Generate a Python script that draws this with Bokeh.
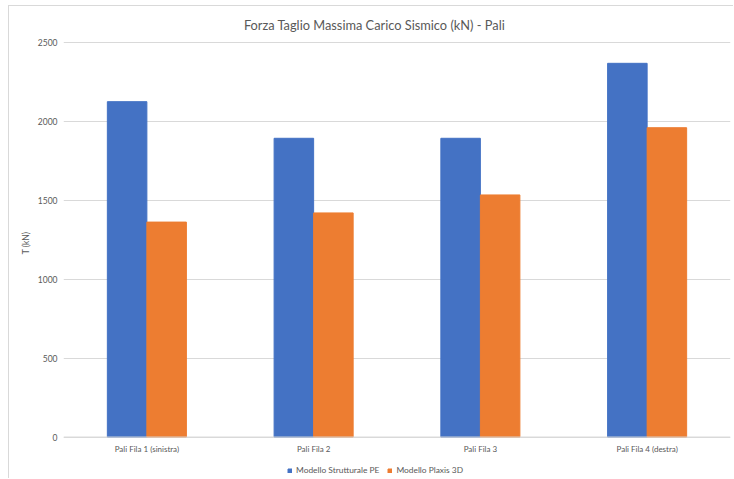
from bokeh.plotting import figure
from bokeh.models import (FactorRange, Range1d, ColumnDataSource, Legend, LegendItem,
                          FixedTicker, Span, Label)
from bokeh.core.properties import value
from bokeh.transform import dodge
from bokeh.embed import file_html
from bokeh.resources import INLINE

# Data
categories = ["Pali Fila 1 (sinistra)", "Pali Fila 2", "Pali Fila 3", "Pali Fila 4 (destra)"]
modello_pe = [2125, 1893, 1893, 2368]
modello_plaxis = [1362, 1420, 1534, 1960]
series_names = ["Modello Strutturale PE", "Modello Plaxis 3D"]
y_ticks = [0, 500, 1000, 1500, 2000, 2500]
chart_title = "Forza Taglio Massima Carico Sismico (kN) - Pali"

TEXT = "#595959"
GRID = "#d9d9d9"
BLUE = "#4472C4"
ORANGE = "#ED7D31"
FONT = "Lato"

source = ColumnDataSource(dict(cat=categories, pe=modello_pe, plaxis=modello_plaxis))

# The frame covers the whole chart height, so the title, the category labels
# and the legend are all drawn inside it, above and below the value scale.
p = figure(width=725, height=473, x_range=FactorRange(*categories, range_padding=0),
           y_range=Range1d(-269, 2728), output_backend="svg", toolbar_location=None,
           x_axis_location=None,
           min_border_left=54, min_border_right=4, min_border_top=0, min_border_bottom=0,
           margin=(5, 0, 0, 8),
           styles={"border-left": f"1px solid {GRID}", "border-top": f"1px solid {GRID}"})
p.outline_line_color = None
p.background_fill_color = "white"
p.border_fill_color = "white"

bw = 0.237
r1 = p.vbar(x=dodge("cat", -bw / 2, range=p.x_range), top="pe", width=bw, source=source,
            fill_color=BLUE, line_color=BLUE)
r2 = p.vbar(x=dodge("cat", bw / 2, range=p.x_range), top="plaxis", width=bw, source=source,
            fill_color=ORANGE, line_color=ORANGE)

# Category axis: base line and labels under it
p.add_layout(Span(location=0, dimension="width", line_color=GRID, line_width=1))
p.text(x="cat", y=0, text="cat", source=source, y_offset=12,
       text_align="center", text_baseline="middle", text_font=value(FONT),
       text_font_size="8px", text_color=TEXT)

# Title
p.add_layout(Label(x=311, y=455, x_units="screen", y_units="screen", text=chart_title,
                   text_align="center", text_baseline="middle", text_font=FONT,
                   text_font_size="12.8px", text_color=TEXT))

# Value axis
p.xgrid.grid_line_color = None
p.ygrid.grid_line_color = GRID
p.ygrid.grid_line_width = 1
p.yaxis.ticker = FixedTicker(ticks=y_ticks)
p.yaxis.axis_line_color = None
p.yaxis.major_tick_line_color = None
p.yaxis.minor_tick_line_color = None
p.yaxis.major_tick_out = 0
p.yaxis.major_tick_in = 0
p.yaxis.minor_tick_out = 0
p.yaxis.major_label_standoff = 6
p.yaxis.major_label_text_font = FONT
p.yaxis.major_label_text_font_size = "8.5px"
p.yaxis.major_label_text_color = TEXT
p.yaxis.axis_label = "T (kN)"
p.yaxis.axis_label_text_font = FONT
p.yaxis.axis_label_text_font_size = "8.5px"
p.yaxis.axis_label_text_font_style = "normal"
p.yaxis.axis_label_text_color = TEXT
p.yaxis.axis_label_standoff = 4

# Legend at the bottom
legend = Legend(items=[LegendItem(label=series_names[0], renderers=[r1]),
                       LegendItem(label=series_names[1], renderers=[r2])],
                location=(224, 4), orientation="horizontal",
                glyph_width=5, glyph_height=5, label_standoff=4, spacing=8,
                padding=0, margin=0, border_line_color=None,
                background_fill_alpha=0,
                label_text_font=FONT, label_text_font_size="8.4px",
                label_text_color=TEXT, label_height=10)
p.add_layout(legend, "center")

open("out.html", "w").write(file_html(p, INLINE))
